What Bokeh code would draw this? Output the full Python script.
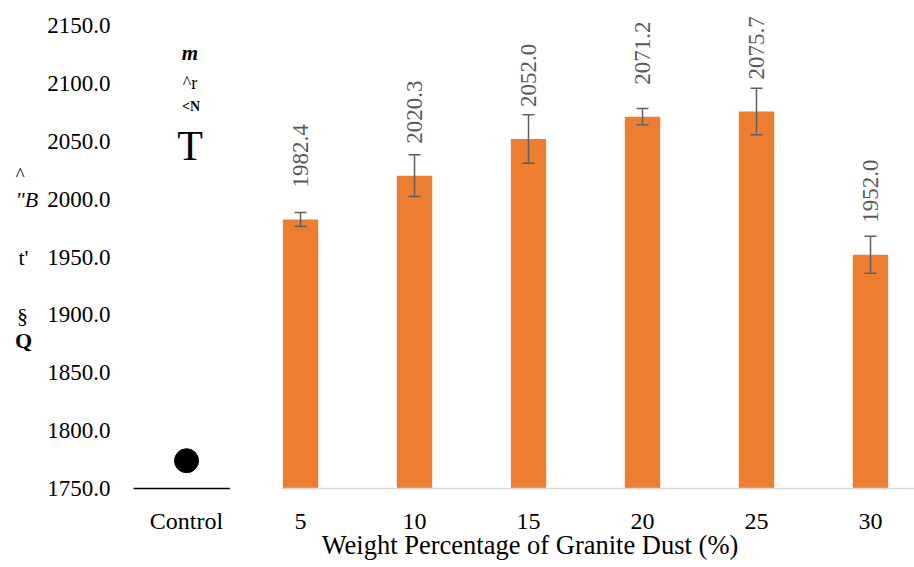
import math
from bokeh.plotting import figure
from bokeh.models import ColumnDataSource, FixedTicker, Range1d, Whisker, Label
from bokeh.core.properties import value
from bokeh.embed import file_html
from bokeh.resources import INLINE

# ---- data ----
categories = ["Control", "5", "10", "15", "20", "25", "30"]
control_value = 1774.0
bar_labels = ["5", "10", "15", "20", "25", "30"]
density = [1982.4, 2020.3, 2052.0, 2071.2, 2075.7, 1952.0]
error = [6.0, 18.0, 21.0, 7.0, 20.0, 16.0]
y_ticks = [1750, 1800, 1850, 1900, 1950, 2000, 2050, 2100, 2150]

# stray (garbled) axis-title glyphs seen in the picture: text, x, y, size, style
stray_text = ["m", "^r", "<N", "T", "^", "\"B", "t'", "§", "Q"]
stray_x = [0.03, 0.03, 0.04, 0.03, -1.46, -1.40, -1.43, -1.44, -1.43]
stray_y = [2126.0, 2100.5, 2080.0, 2046.0, 2021.0, 1999.5, 1950.0, 1899.8, 1878.0]
stray_size = ["21px", "18px", "14px", "42px", "19px", "22px", "22px", "22px", "22px"]
stray_style = ["bold italic", "normal", "bold", "normal", "normal", "italic", "normal", "normal", "bold"]

FONT = "Liberation Serif"
BAR = "#ED7D31"
ERR = "#5F5F5F"

pos = list(range(len(categories)))
bar_x = pos[1:]
base = y_ticks[0]

src = ColumnDataSource(dict(
    x=bar_x,
    top=density,
    upper=[d + e for d, e in zip(density, error)],
    lower=[d - e for d, e in zip(density, error)],
    label=["{:.1f}".format(d) for d in density],
))

p = figure(width=914, height=567, output_backend="svg", toolbar_location=None,
           x_range=Range1d(-1.632, 6.386), y_range=Range1d(1681.75, 2171.6),
           min_border_left=0, min_border_right=0, min_border_top=0,
           min_border_bottom=0)
p.outline_line_color = None
p.background_fill_color = "white"
p.border_fill_color = "white"
p.xgrid.visible = False
p.ygrid.visible = False

# bars
p.vbar(x="x", top="top", bottom=base, width=0.31, source=src,
       fill_color=BAR, line_color=None)

# error bars
w = Whisker(base="x", upper="upper", lower="lower", source=src,
            line_color=ERR, line_width=1.5, level="overlay")
w.upper_head.size = 12
w.lower_head.size = 12
w.upper_head.line_color = ERR
w.lower_head.line_color = ERR
w.upper_head.line_width = 1.5
w.lower_head.line_width = 1.5
p.add_layout(w)

# value labels (rotated)
p.text(x="x", y="top", text="label", source=src, angle=math.pi / 2,
       text_align="left", text_baseline="middle", y_offset=-32,
       text_font=value(FONT), text_font_size="23px", text_color="#595959")

# baselines
p.segment(x0=[bar_x[0] - 0.17], y0=[base], x1=[p.x_range.end], y1=[base],
          line_color="#D9D9D9", line_width=1.5)
p.segment(x0=[pos[0] - 0.465], y0=[base], x1=[pos[0] + 0.38], y1=[base],
          line_color="black", line_width=1.5)

# control point
p.scatter(x=[pos[0]], y=[control_value], size=24, marker="circle",
          fill_color="black", line_color="black")

# x axis drawn at the baseline inside the frame
p.xaxis.fixed_location = base
p.xaxis.bounds = (-0.36, 6.386)
p.xaxis.ticker = FixedTicker(ticks=pos)
p.xaxis.major_label_overrides = {i: c for i, c in zip(pos, categories)}
p.xaxis.axis_label = "Weight Percentage of Granite Dust (%)"
p.xaxis.axis_label_text_font = FONT
p.xaxis.axis_label_text_font_style = "normal"
p.xaxis.axis_label_text_font_size = "26.5px"
p.xaxis.axis_label_text_color = "black"
p.xaxis.axis_label_standoff = -7
p.xaxis.major_label_text_font = FONT
p.xaxis.major_label_text_font_size = "24px"
p.xaxis.major_label_text_color = "black"
p.xaxis.major_label_standoff = 19
p.xaxis.major_tick_out = 0
p.xaxis.major_tick_in = 0
p.xaxis.axis_line_color = None
p.xaxis.major_tick_line_color = None
p.xaxis.minor_tick_line_color = None

# y axis drawn at a fixed place inside the frame
p.yaxis.fixed_location = -0.579
p.yaxis.ticker = FixedTicker(ticks=y_ticks)
p.yaxis.major_label_overrides = {t: "{:.1f}".format(t) for t in y_ticks}
p.yaxis.major_label_text_font = FONT
p.yaxis.major_label_text_font_size = "23px"
p.yaxis.major_label_text_color = "black"
p.yaxis.major_label_standoff = 10
p.yaxis.major_tick_out = 0
p.yaxis.major_tick_in = 0
p.yaxis.axis_line_color = None
p.yaxis.major_tick_line_color = None
p.yaxis.minor_tick_line_color = None

for t, x, y, s, st in zip(stray_text, stray_x, stray_y, stray_size, stray_style):
    p.add_layout(Label(x=x, y=y, text=t, text_font=FONT, text_font_size=s,
                       text_font_style=st, text_align="center",
                       text_baseline="middle", text_color="black"))

open("out.html", "w").write(file_html(p, INLINE))
